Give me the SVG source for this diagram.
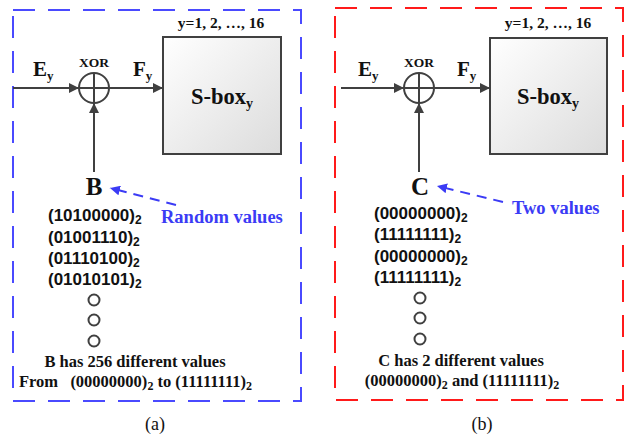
<svg xmlns="http://www.w3.org/2000/svg" width="643" height="440" viewBox="0 0 643 440">
  <defs>
    <linearGradient id="boxFill" x1="0" y1="0" x2="1" y2="1">
      <stop offset="0" stop-color="#ffffff"/>
      <stop offset="1" stop-color="#dcdcdc"/>
    </linearGradient>
    <marker id="arrowDark" viewBox="0 0 10 10" refX="10" refY="5" markerWidth="5" markerHeight="5" orient="auto" markerUnits="strokeWidth">
      <path d="M0,0 L10,5 L0,10 z" fill="#404040"/>
    </marker>
    <marker id="arrowBlue" viewBox="0 0 10 10" refX="10" refY="5" markerWidth="5" markerHeight="5" orient="auto" markerUnits="strokeWidth">
      <path d="M0,0 L10,5 L0,10 z" fill="#3b3bf5"/>
    </marker>
  </defs>
  <style>
    .frameA { fill: none; stroke: #4a4aff; stroke-width: 2; stroke-dasharray: 22 13; }
    .frameB { fill: none; stroke: #ff1a1a; stroke-width: 2; stroke-dasharray: 22 13; }
    .wire { fill: none; stroke: #404040; stroke-width: 2; }
    .wireArrow { fill: none; stroke: #404040; stroke-width: 2; marker-end: url(#arrowDark); }
    .hint { fill: none; stroke: #3b3bf5; stroke-width: 2; stroke-dasharray: 10 7; marker-end: url(#arrowBlue); }
    .xor { fill: none; stroke: #404040; stroke-width: 2; }
    .sbox { fill: url(#boxFill); stroke: #404040; stroke-width: 2; }
    .dot { fill: none; stroke: #404040; stroke-width: 2; }
    .serif { font-family: "Liberation Serif", "Times New Roman", serif; font-weight: bold; fill: #111; }
    .note { font-family: "Liberation Serif", "Times New Roman", serif; font-weight: bold; fill: #111; font-size: 16.5px; }
    .sans { font-family: "Liberation Sans", Arial, sans-serif; font-weight: bold; fill: #111; font-size: 17px; }
    .blue { font-family: "Liberation Serif", "Times New Roman", serif; font-weight: bold; fill: #3b3bf5; font-size: 18.5px; }
    .cap { font-family: "Liberation Serif", "Times New Roman", serif; fill: #111; font-size: 18px; }
  </style>

  <!-- panel frames -->
  <rect class="frameA" x="13" y="10" width="288" height="391"/>
  <rect class="frameB" x="335" y="8" width="288" height="392"/>

  <!-- connectors -->
  <g id="connectors">
    <line class="wireArrow" x1="13" y1="88" x2="79" y2="88"/>
    <line class="wireArrow" x1="109" y1="88" x2="163" y2="88"/>
    <line class="wireArrow" x1="94" y1="172" x2="94" y2="103"/>
    <line class="hint" x1="176" y1="205" x2="110" y2="188"/>

    <line class="wireArrow" x1="341" y1="88" x2="404" y2="88"/>
    <line class="wireArrow" x1="434" y1="88" x2="490" y2="88"/>
    <line class="wireArrow" x1="419" y1="172" x2="419" y2="103"/>
    <line class="hint" x1="503" y1="202" x2="437" y2="186"/>
  </g>

  <!-- panel (a) -->
  <g id="xorA">
    <circle class="xor" cx="94" cy="88" r="15"/>
    <line class="wire" x1="79" y1="88" x2="109" y2="88"/>
    <line class="wire" x1="94" y1="73" x2="94" y2="103"/>
    <text class="serif" x="94" y="67" font-size="13.5" text-anchor="middle">XOR</text>
  </g>
  <g id="sboxA">
    <rect class="sbox" x="163" y="37" width="118" height="117"/>
    <text class="serif" x="222" y="104" font-size="22.5" text-anchor="middle">S-box<tspan font-size="14" dy="4">y</tspan></text>
    <text class="serif" x="221" y="28" font-size="15.5" text-anchor="middle">y=1, 2, …, 16</text>
  </g>
  <g id="labelsA">
    <text class="serif" x="33" y="76" font-size="21">E<tspan font-size="13" dy="4">y</tspan></text>
    <text class="serif" x="133" y="76" font-size="21">F<tspan font-size="13" dy="4">y</tspan></text>
  </g>
  <g id="nodeB">
    <text class="serif" x="94" y="195" font-size="25" text-anchor="middle">B</text>
    <text class="blue" x="161" y="223">Random values</text>
    <text class="sans" x="48" y="221">(10100000)<tspan font-size="12" dy="3">2</tspan></text>
    <text class="sans" x="48" y="243">(01001110)<tspan font-size="12" dy="3">2</tspan></text>
    <text class="sans" x="48" y="264">(01110100)<tspan font-size="12" dy="3">2</tspan></text>
    <text class="sans" x="48" y="285">(01010101)<tspan font-size="12" dy="3">2</tspan></text>
    <circle class="dot" cx="94" cy="300" r="5.5"/>
    <circle class="dot" cx="94" cy="320" r="5.5"/>
    <circle class="dot" cx="94" cy="341" r="5.5"/>
    <text class="note" x="135" y="367" text-anchor="middle">B has 256 different values</text>
    <text class="note" x="19" y="387">From</text>
    <text class="note" x="252" y="387" text-anchor="end">(00000000)<tspan font-size="12" dy="3">2</tspan><tspan dy="-3"> to (11111111)</tspan><tspan font-size="12" dy="3">2</tspan></text>
  </g>

  <!-- panel (b) -->
  <g id="xorB">
    <circle class="xor" cx="419" cy="88" r="15"/>
    <line class="wire" x1="404" y1="88" x2="434" y2="88"/>
    <line class="wire" x1="419" y1="73" x2="419" y2="103"/>
    <text class="serif" x="419" y="67" font-size="13.5" text-anchor="middle">XOR</text>
  </g>
  <g id="sboxB">
    <rect class="sbox" x="490" y="38" width="117" height="116"/>
    <text class="serif" x="548" y="104" font-size="22.5" text-anchor="middle">S-box<tspan font-size="14" dy="4">y</tspan></text>
    <text class="serif" x="548" y="28" font-size="15.5" text-anchor="middle">y=1, 2, …, 16</text>
  </g>
  <g id="labelsB">
    <text class="serif" x="358" y="76" font-size="21">E<tspan font-size="13" dy="4">y</tspan></text>
    <text class="serif" x="457" y="76" font-size="21">F<tspan font-size="13" dy="4">y</tspan></text>
  </g>
  <g id="nodeC">
    <text class="serif" x="420" y="195" font-size="25" text-anchor="middle">C</text>
    <text class="blue" x="512" y="214">Two values</text>
    <text class="sans" x="374" y="219">(00000000)<tspan font-size="12" dy="3">2</tspan></text>
    <text class="sans" x="374" y="240">(11111111)<tspan font-size="12" dy="3">2</tspan></text>
    <text class="sans" x="374" y="262">(00000000)<tspan font-size="12" dy="3">2</tspan></text>
    <text class="sans" x="374" y="283">(11111111)<tspan font-size="12" dy="3">2</tspan></text>
    <circle class="dot" cx="420" cy="298" r="5.5"/>
    <circle class="dot" cx="420" cy="318" r="5.5"/>
    <circle class="dot" cx="420" cy="339" r="5.5"/>
    <text class="note" x="461" y="366" text-anchor="middle">C has 2 different values</text>
    <text class="note" x="462" y="386" text-anchor="middle">(00000000)<tspan font-size="12" dy="3">2</tspan><tspan dy="-3"> and (11111111)</tspan><tspan font-size="12" dy="3">2</tspan></text>
  </g>

  <!-- captions -->
  <text class="cap" x="155" y="430" text-anchor="middle">(a)</text>
  <text class="cap" x="482" y="430" text-anchor="middle">(b)</text>
</svg>
